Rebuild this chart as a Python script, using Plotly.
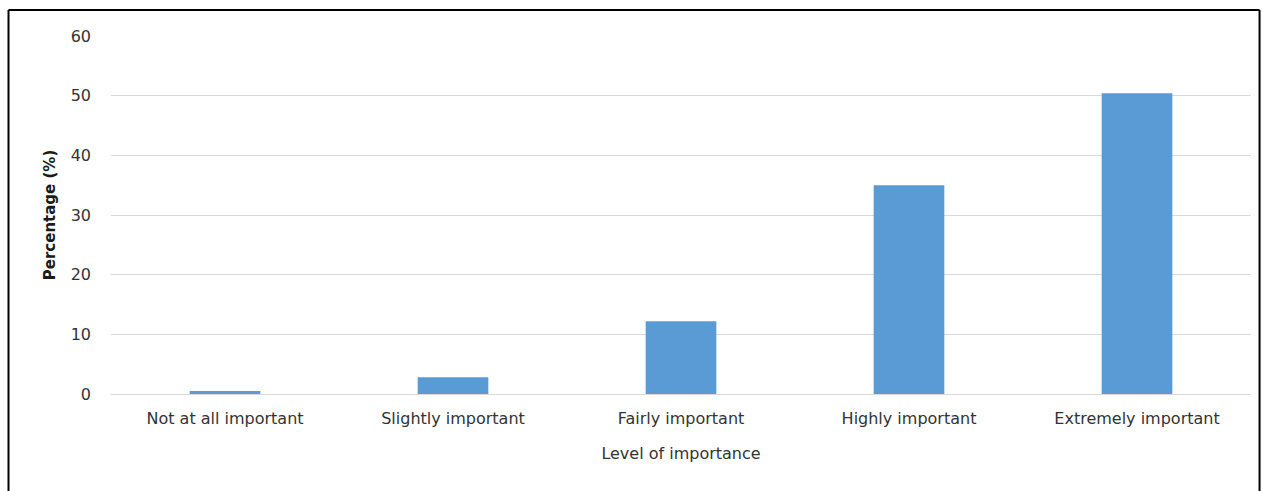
import plotly.graph_objects as go

categories = ["Not at all important", "Slightly important", "Fairly important",
              "Highly important", "Extremely important"]
values = [0.5, 2.8, 12.2, 35.0, 50.4]
y_ticks = [0, 10, 20, 30, 40, 50, 60]

fig = go.Figure(go.Bar(x=categories, y=values, marker=dict(color="#5b9bd5", line=dict(width=0)),
                       width=0.31))

font_family = "DejaVu Sans, Liberation Sans, sans-serif"
txt = "#333333"
fig.update_layout(
    width=1262, height=491,
    margin=dict(l=111, r=11, t=36, b=97),
    paper_bgcolor="white", plot_bgcolor="white",
    showlegend=False,
    font=dict(family=font_family, size=16, color=txt),
    xaxis=dict(
        title=dict(text="Level of importance", font=dict(size=16, color=txt), standoff=20),
        tickfont=dict(size=16, color=txt),
        showgrid=False, showline=False, ticks="", ticklabelstandoff=13,
    ),
    yaxis=dict(
        title=dict(text="<b>Percentage (%)</b>", font=dict(size=15, color="#1a1a1a"), standoff=11),
        range=[0, 60], tickvals=y_ticks, ticktext=[str(v) for v in y_ticks],
        tickfont=dict(size=16, color=txt),
        showgrid=True, gridcolor="#d9d9d9", gridwidth=1,
        zeroline=True, zerolinecolor="#d9d9d9", zerolinewidth=1,
        showline=False, ticks="", ticklabelstandoff=19,
    ),
    shapes=[
        dict(type="line", xref="paper", yref="paper", x0=-0.0899, x1=1.0075, y0=1.0726, y1=1.0726,
             line=dict(color="black", width=2)),
        dict(type="line", xref="paper", yref="paper", x0=-0.0899, x1=-0.0899, y0=1.0726, y1=-0.35,
             line=dict(color="black", width=2)),
        dict(type="line", xref="paper", yref="paper", x0=1.0075, x1=1.0075, y0=1.0726, y1=-0.35,
             line=dict(color="black", width=2)),
    ],
)

fig.write_html("out.html")
